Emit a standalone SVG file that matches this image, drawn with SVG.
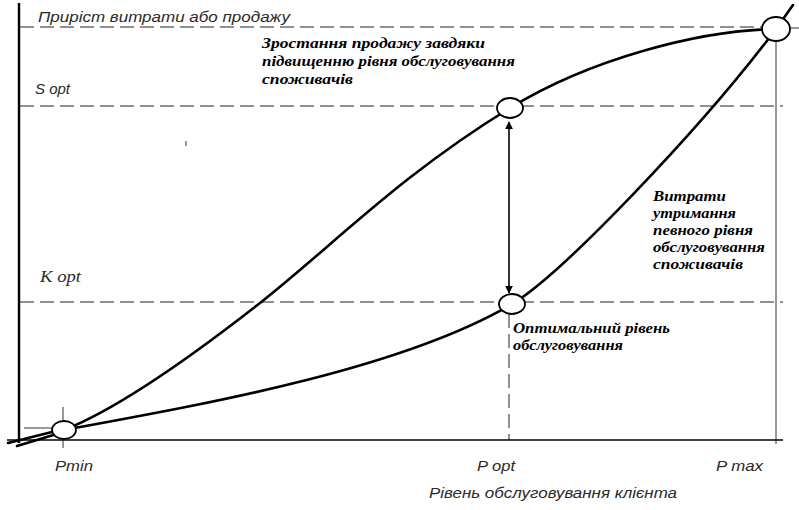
<svg xmlns="http://www.w3.org/2000/svg" width="799" height="510" viewBox="0 0 799 510">
<style>
.bg{fill:#fff}
.axis{stroke:#000;fill:none}
.dash{stroke:#222;stroke-width:1;stroke-dasharray:14 6;fill:none}
.thin{stroke:#333;stroke-width:1;fill:none}
.curve{stroke:#000;stroke-width:2.6;fill:none;stroke-linecap:round}
.node{fill:#fff;stroke:#000;stroke-width:1.8}
.lbl{font-family:"Liberation Sans",Arial,sans-serif;font-style:italic;font-size:15px;fill:#2a2a2a}
.ser{font-family:"Liberation Serif","Times New Roman",serif;font-style:italic;font-size:16px;fill:#2a2a2a}
.note{font-family:"Liberation Serif","Times New Roman",serif;font-style:italic;font-weight:bold;font-size:14px;fill:#000}
</style>
<defs>
<marker id="ah" viewBox="0 0 10 10" refX="9" refY="5" markerWidth="8" markerHeight="8" markerUnits="userSpaceOnUse" orient="auto-start-reverse">
<path d="M0,0 L10,5 L0,10 z" fill="#000"/>
</marker>
</defs>
<rect class="bg" x="0" y="0" width="799" height="510"/>

<g id="guides">
<line class="dash" x1="20" y1="27" x2="764" y2="27"/>
<line class="thin" x1="789" y1="28" x2="799" y2="28"/>
<line class="dash" x1="20" y1="106" x2="783" y2="106"/>
<line class="dash" x1="20" y1="302" x2="783" y2="302"/>
<line class="dash" x1="509" y1="314" x2="509" y2="440"/>
<line class="thin" x1="776" y1="41" x2="776" y2="444"/>
<line class="thin" x1="24" y1="428" x2="54" y2="428"/>
<line class="thin" x1="63" y1="407" x2="63" y2="448"/>
<line class="thin" x1="186" y1="141" x2="186" y2="146"/>
</g>

<g id="axes">
<line class="axis" stroke-width="2.4" x1="19" y1="3" x2="19" y2="443"/>
<line class="axis" stroke-width="1.6" x1="7" y1="440" x2="783" y2="440"/>
</g>

<g id="connectors">
<path class="curve" d="M8,443 L60,430"/>
<path class="curve" d="M17,446 L60,433"/>
<path id="sales-curve" class="curve" d="M64,430 C120,408 200,350 260,303 C330,248 400,175 510,108 C590,59 700,30 776,29"/>
<path id="cost-curve" class="curve" d="M64,430 C200,405 400,370 512,304 C560,276 700,130 776,29 L793,5"/>
<line id="gap-arrow" stroke="#000" stroke-width="1.6" x1="509" y1="122" x2="509" y2="293" marker-start="url(#ah)" marker-end="url(#ah)"/>
</g>

<g id="node-pmin"><ellipse class="node" cx="64" cy="430" rx="12" ry="9"/></g>
<g id="node-sopt"><ellipse class="node" cx="510" cy="108" rx="13" ry="10"/></g>
<g id="node-kopt"><ellipse class="node" cx="512" cy="304" rx="13" ry="10"/></g>
<g id="node-pmax"><ellipse class="node" cx="776" cy="29" rx="14" ry="12"/></g>

<g id="labels">
<text class="lbl" x="38" y="22" textLength="252" lengthAdjust="spacingAndGlyphs">Приріст витрати або продажу</text>
<text class="lbl" x="35" y="94" textLength="35" lengthAdjust="spacingAndGlyphs">S opt</text>
<text class="ser" x="40" y="282" textLength="41" lengthAdjust="spacingAndGlyphs">K opt</text>
<text class="lbl" x="55" y="471" textLength="38" lengthAdjust="spacingAndGlyphs">Pmin</text>
<text class="lbl" x="477" y="471" textLength="38" lengthAdjust="spacingAndGlyphs">P opt</text>
<text class="lbl" x="716" y="471" textLength="47" lengthAdjust="spacingAndGlyphs">P max</text>
<text class="lbl" x="429" y="498" textLength="248" lengthAdjust="spacingAndGlyphs">Рівень обслуговування клієнта</text>
</g>

<g id="note-sales">
<text class="note" x="262" y="48" textLength="223" lengthAdjust="spacingAndGlyphs">Зростання продажу завдяки</text>
<text class="note" x="262" y="66" textLength="253" lengthAdjust="spacingAndGlyphs">підвищенню рівня обслуговування</text>
<text class="note" x="262" y="84" textLength="91" lengthAdjust="spacingAndGlyphs">споживачів</text>
</g>

<g id="note-cost">
<text class="note" x="653" y="201" textLength="73" lengthAdjust="spacingAndGlyphs">Витрати</text>
<text class="note" x="653" y="218" textLength="83" lengthAdjust="spacingAndGlyphs">утримання</text>
<text class="note" x="653" y="235" textLength="100" lengthAdjust="spacingAndGlyphs">певного рівня</text>
<text class="note" x="653" y="252" textLength="112" lengthAdjust="spacingAndGlyphs">обслуговування</text>
<text class="note" x="653" y="269" textLength="90" lengthAdjust="spacingAndGlyphs">споживачів</text>
</g>

<g id="note-opt">
<text class="note" x="513" y="333" textLength="157" lengthAdjust="spacingAndGlyphs">Оптимальний рівень</text>
<text class="note" x="513" y="350" textLength="110" lengthAdjust="spacingAndGlyphs">обслуговування</text>
</g>
</svg>
